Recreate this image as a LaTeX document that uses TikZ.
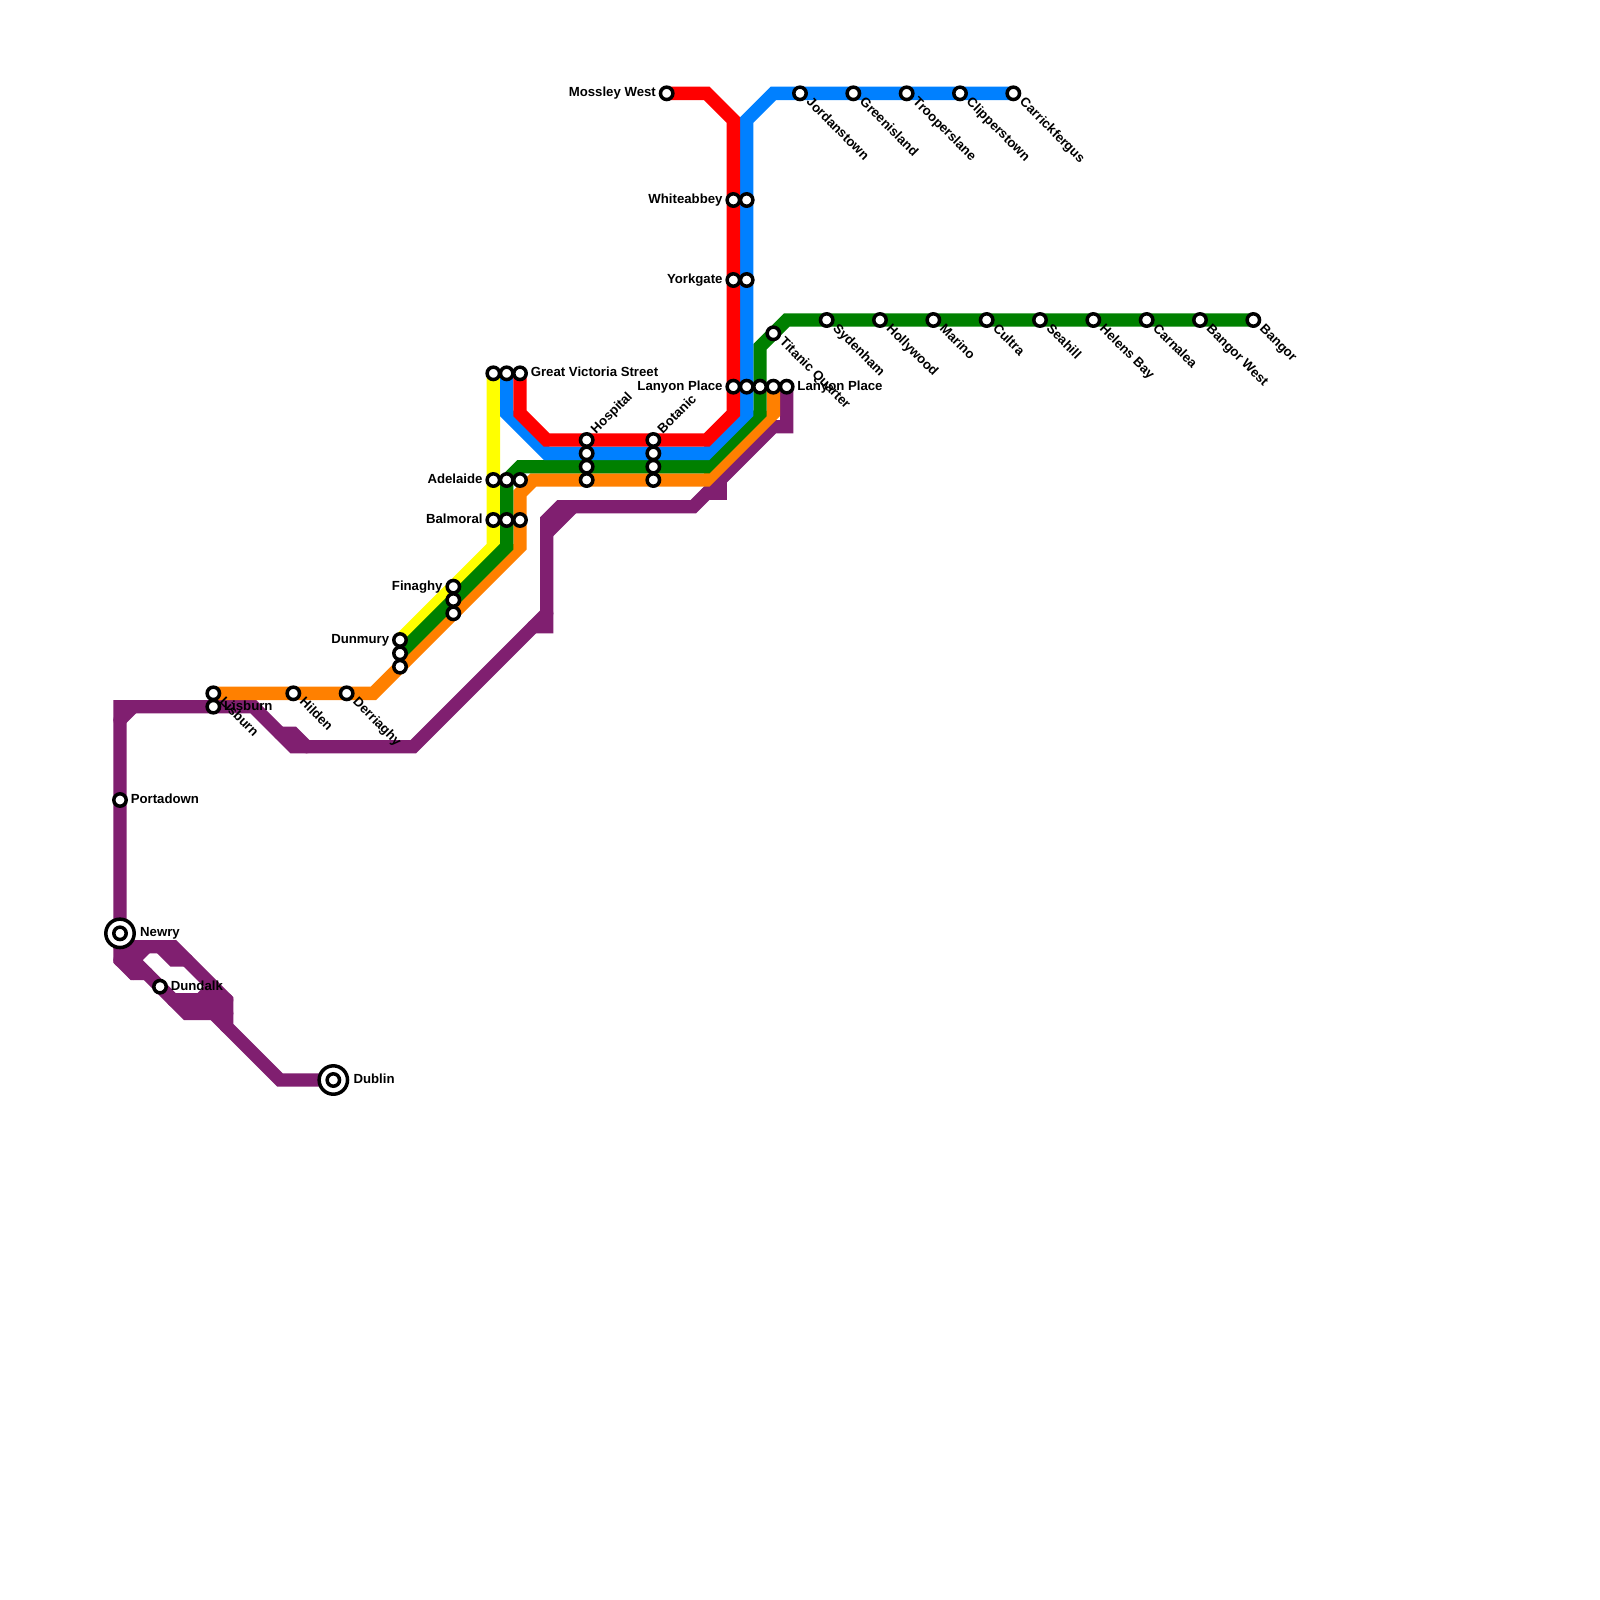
\documentclass[tikz,border=0pt]{standalone}
\usepackage{fontspec}
\setmainfont{Liberation Sans}
\pgfdeclarelayer{lines}
\pgfsetlayers{lines,main}
\definecolor{lpurple}{HTML}{801F70}
\definecolor{lred}{HTML}{FF0000}
\definecolor{lblue}{HTML}{0080FF}
\definecolor{lgreen}{HTML}{008000}
\definecolor{lorange}{HTML}{FF8000}
\definecolor{lyellow}{HTML}{FFFF00}
\tikzset{
  route/.style={line width=13.33pt,line cap=round,line join=miter,miter limit=10},
  stn/.style={circle,draw=black,fill=white,line width=3.5pt,minimum size=12.4pt,inner sep=0pt,outer sep=0pt},
  hub/.style={circle,draw=black,fill=white,line width=3.5pt,minimum size=28.4pt,inner sep=0pt,outer sep=0pt},
  lab/.style={font=\bfseries\fontsize{13.2}{14}\selectfont,inner sep=0pt,text=black},
  toL/.style={lab,anchor=base east,xshift=-10.6pt,yshift=-3.4pt},
  toR/.style={lab,anchor=base west,xshift=10.6pt,yshift=-3.4pt},
  toRR/.style={lab,anchor=base west,xshift=20pt,yshift=-3.4pt},
  dn/.style={lab,anchor=mid west,rotate=-45,xshift=10.6pt},
  up/.style={lab,anchor=mid west,rotate=45,xshift=10.6pt},
}
\begin{document}
\begin{tikzpicture}[x=13.3333pt,y=-13.3333pt]
\useasboundingbox (0,0) rectangle (120,120);
\begin{pgfonlayer}{lines}
\fill[white] (0,0) rectangle (120,120);
\end{pgfonlayer}
% stations
\foreach \x/\y in {50/7,60/7,64/7,68/7,72/7,76/7,55/15,56/15,55/21,56/21,62/24,66/24,70/24,74/24,78/24,82/24,86/24,90/24,94/24,58/25,37/28,38/28,39/28,55/29,56/29,57/29,58/29,59/29,44/33,44/34,44/35,44/36,49/33,49/34,49/35,49/36,37/36,38/36,39/36,37/39,38/39,39/39,34/44,34/45,34/46,30/48,30/49,30/50,16/52,22/52,26/52,16/53,9/60,12/74}
  {\node[stn] (s\x-\y) at (\x,\y) {};}
\node[hub] (hubnewry) at (9,70) {};
\node[stn] (s9-70) at (9,70) {};
\node[hub] (hubdublin) at (25,81) {};
\node[stn] (s25-81) at (25,81) {};
% lines
\begin{pgfonlayer}{lines}
\draw[route,lpurple] (s59-29.center) -- (59,32) -- (58,32) -- (53,37) -- (52,38) -- (42,38) -- (41,39) -- (41,47) -- (40,47);
\draw[route,lpurple] (54,36) -- (54,37) -- (53,37);
\draw[route,lpurple] (41,40) -- (43,38);
\draw[route,lpurple] (41,46) -- (31,56) -- (22,56) -- (19,53) -- (9,53) -- (s9-70.center);
\draw[route,lpurple] (21,55) -- (22,55) -- (23,56);
\draw[route,lpurple] (9,54) -- (10,53);
\draw[route,lpurple] (s9-70.center) -- (9,72) -- (10,73) -- (11,73);
\draw[route,lpurple] (9,71) -- (13,71) -- (17,75) -- (17,77) -- (21,81) -- (s25-81.center);
\draw[route,lpurple] (12,71) -- (13,72) -- (14,72);
\draw[route,lpurple] (10,72) -- (11,71);
\draw[route,lpurple] (9,72) -- (10,72) -- (10,73);
\draw[route,lpurple] (10,72) -- (14,76) -- (17,76);
\draw[route,lpurple] (13,75) -- (17,75);
\draw[route,lpurple] (15,75) -- (16,74);
\draw[route,lpurple] (16,76) -- (17,77);
\draw[route,lyellow] (s37-28.center) -- (37,41) -- (s30-48.center);
\draw[route,lorange] (s16-52.center) -- (28,52) -- (39,41) -- (39,37) -- (40,36) -- (53,36) -- (58,31) -- (s58-29.center);
\draw[route,lgreen] (s30-49.center) -- (38,41) -- (38,36) -- (39,35) -- (53,35) -- (57,31) -- (57,26) -- (59,24) -- (s94-24.center);
\draw[route,lblue] (s38-28.center) -- (38,31) -- (41,34) -- (53,34) -- (56,31) -- (56,9) -- (58,7) -- (s76-7.center);
\draw[route,lred] (s39-28.center) -- (39,31) -- (41,33) -- (53,33) -- (55,31) -- (55,9) -- (53,7) -- (s50-7.center);
\end{pgfonlayer}
% labels
\node[toL] (lmossley) at (s50-7) {Mossley West};
\node[toL] (lwhite) at (s55-15) {Whiteabbey};
\node[toL] (lyork) at (s55-21) {Yorkgate};
\node[toL] (llanyonl) at (s55-29) {Lanyon Place};
\node[toR] (llanyonr) at (s59-29) {Lanyon Place};
\node[toR] (lgvs) at (s39-28) {Great Victoria Street};
\node[toL] (ladel) at (s37-36) {Adelaide};
\node[toL] (lbalm) at (s37-39) {Balmoral};
\node[toL] (lfin) at (s34-44) {Finaghy};
\node[toL] (ldun) at (s30-48) {Dunmury};
\node[toR] (lport) at (s9-60) {Portadown};
\node[toR] (ldund) at (s12-74) {Dundalk};
\node[toR] (llisb) at (s16-53) {Lisburn};
\node[toRR] (lnewry) at (s9-70) {Newry};
\node[toRR] (ldub) at (s25-81) {Dublin};
\node[up] (lhosp) at (s44-33) {Hospital};
\node[up] (lbot) at (s49-33) {Botanic};
\node[dn] (ljord) at (s60-7) {Jordanstown};
\node[dn] (lgreen) at (s64-7) {Greenisland};
\node[dn] (ltroop) at (s68-7) {Trooperslane};
\node[dn] (lclip) at (s72-7) {Clipperstown};
\node[dn] (lcarr) at (s76-7) {Carrickfergus};
\node[dn] (ltit) at (s58-25) {Titanic Quarter};
\node[dn] (lsyd) at (s62-24) {Sydenham};
\node[dn] (lholl) at (s66-24) {Hollywood};
\node[dn] (lmar) at (s70-24) {Marino};
\node[dn] (lcul) at (s74-24) {Cultra};
\node[dn] (lsea) at (s78-24) {Seahill};
\node[dn] (lhel) at (s82-24) {Helens Bay};
\node[dn] (lcar) at (s86-24) {Carnalea};
\node[dn] (lbw) at (s90-24) {Bangor West};
\node[dn] (lban) at (s94-24) {Bangor};
\node[dn] (llisb2) at (s16-52) {Lisburn};
\node[dn] (lhil) at (s22-52) {Hilden};
\node[dn] (lder) at (s26-52) {Derriaghy};
\end{tikzpicture}
\end{document}
